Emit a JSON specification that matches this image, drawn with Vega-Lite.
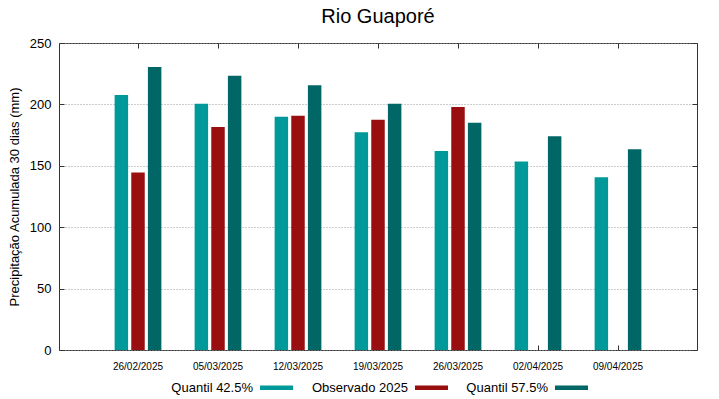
{
  "$schema": "https://vega.github.io/schema/vega-lite/v6.json",
  "width": 638,
  "height": 307,
  "autosize": {"type": "none"},
  "padding": {"left": 59, "top": 43, "right": 22, "bottom": 49},
  "background": "white",
  "title": {
    "text": "Rio Guaporé",
    "font": "Liberation Sans",
    "fontSize": 20,
    "fontWeight": "normal",
    "color": "black",
    "anchor": "middle",
    "frame": "group",
    "offset": 10
  },
  "config": {
    "font": "Liberation Sans",
    "view": {"stroke": "#333333", "strokeWidth": 1}
  },
  "data": {
    "values": [
      {"data": "26/02/2025", "serie": "Quantil 42.5%", "valor": 207.6},
      {"data": "26/02/2025", "serie": "Observado 2025", "valor": 144.6},
      {"data": "26/02/2025", "serie": "Quantil 57.5%", "valor": 230.4},
      {"data": "05/03/2025", "serie": "Quantil 42.5%", "valor": 200.6},
      {"data": "05/03/2025", "serie": "Observado 2025", "valor": 181.6},
      {"data": "05/03/2025", "serie": "Quantil 57.5%", "valor": 223.4},
      {"data": "12/03/2025", "serie": "Quantil 42.5%", "valor": 190.0},
      {"data": "12/03/2025", "serie": "Observado 2025", "valor": 190.8},
      {"data": "12/03/2025", "serie": "Quantil 57.5%", "valor": 215.5},
      {"data": "19/03/2025", "serie": "Quantil 42.5%", "valor": 177.3},
      {"data": "19/03/2025", "serie": "Observado 2025", "valor": 187.6},
      {"data": "19/03/2025", "serie": "Quantil 57.5%", "valor": 200.6},
      {"data": "26/03/2025", "serie": "Quantil 42.5%", "valor": 162.0},
      {"data": "26/03/2025", "serie": "Observado 2025", "valor": 197.9},
      {"data": "26/03/2025", "serie": "Quantil 57.5%", "valor": 185.1},
      {"data": "02/04/2025", "serie": "Quantil 42.5%", "valor": 153.6},
      {"data": "02/04/2025", "serie": "Quantil 57.5%", "valor": 174.0},
      {"data": "09/04/2025", "serie": "Quantil 42.5%", "valor": 140.6},
      {"data": "09/04/2025", "serie": "Quantil 57.5%", "valor": 163.4}
    ]
  },
  "encoding": {
    "x": {
      "field": "data",
      "type": "nominal",
      "sort": null,
      "scale": {"paddingInner": 0, "paddingOuter": 0.4875}
    },
    "xOffset": {
      "field": "serie",
      "type": "nominal",
      "sort": ["Quantil 42.5%", "Observado 2025", "Quantil 57.5%"],
      "scale": {"paddingInner": 0.19, "paddingOuter": 1.095}
    },
    "y": {
      "field": "valor",
      "type": "quantitative",
      "scale": {"domain": [0, 250], "nice": false}
    }
  },
  "layer": [
    {
      "mark": {"type": "bar"},
      "encoding": {
        "x": {
          "field": "data",
          "type": "nominal",
          "sort": null,
          "axis": {
            "title": null,
            "labelAngle": 0,
            "labelFontSize": 10,
            "labelColor": "black",
            "domain": false,
            "ticks": true,
            "tickSize": -5,
            "tickColor": "#333333",
            "labelPadding": 16
          }
        },
        "y": {
          "field": "valor",
          "type": "quantitative",
          "axis": {
            "title": "Precipitação Acumulada 30 dias (mm)",
            "titleFontSize": 13,
            "titleFontWeight": "normal",
            "titleColor": "black",
            "titlePadding": 8,
            "values": [0, 50, 100, 150, 200, 250],
            "labelFontSize": 13,
            "labelColor": "black",
            "labelPadding": 13,
            "domain": false,
            "ticks": true,
            "tickSize": -5,
            "tickColor": "#333333",
            "grid": true,
            "gridColor": "#999999",
            "gridDash": [1, 2],
            "gridWidth": 1
          }
        },
        "color": {
          "field": "serie",
          "type": "nominal",
          "sort": ["Quantil 42.5%", "Observado 2025", "Quantil 57.5%"],
          "scale": {
            "domain": ["Quantil 42.5%", "Observado 2025", "Quantil 57.5%"],
            "range": ["#009999", "#990e0e", "#006666"]
          },
          "legend": {
            "title": null,
            "orient": "none",
            "legendX": 201,
            "legendY": 328,
            "direction": "horizontal",
            "labelFontSize": 13,
            "labelColor": "black",
            "symbolType": "M-1,-0.14L1,-0.14L1,0.14L-1,0.14Z",
            "symbolSize": 1089,
            "symbolStrokeWidth": 0,
            "labelAlign": "right",
            "labelOffset": -40,
            "columnPadding": 18
          }
        }
      }
    },
    {
      "mark": {"type": "bar", "opacity": 0},
      "encoding": {
        "x": {
          "field": "data",
          "type": "nominal",
          "sort": null,
          "axis": {
            "orient": "top",
            "title": null,
            "labels": false,
            "domain": false,
            "ticks": true,
            "tickSize": -5,
            "tickColor": "#333333"
          }
        },
        "y": {
          "field": "valor",
          "type": "quantitative",
          "axis": {
            "orient": "right",
            "title": null,
            "labels": false,
            "values": [0, 50, 100, 150, 200, 250],
            "domain": false,
            "ticks": true,
            "tickSize": -5,
            "tickColor": "#333333",
            "grid": false
          }
        }
      }
    }
  ],
  "resolve": {"axis": {"x": "independent", "y": "independent"}}
}
